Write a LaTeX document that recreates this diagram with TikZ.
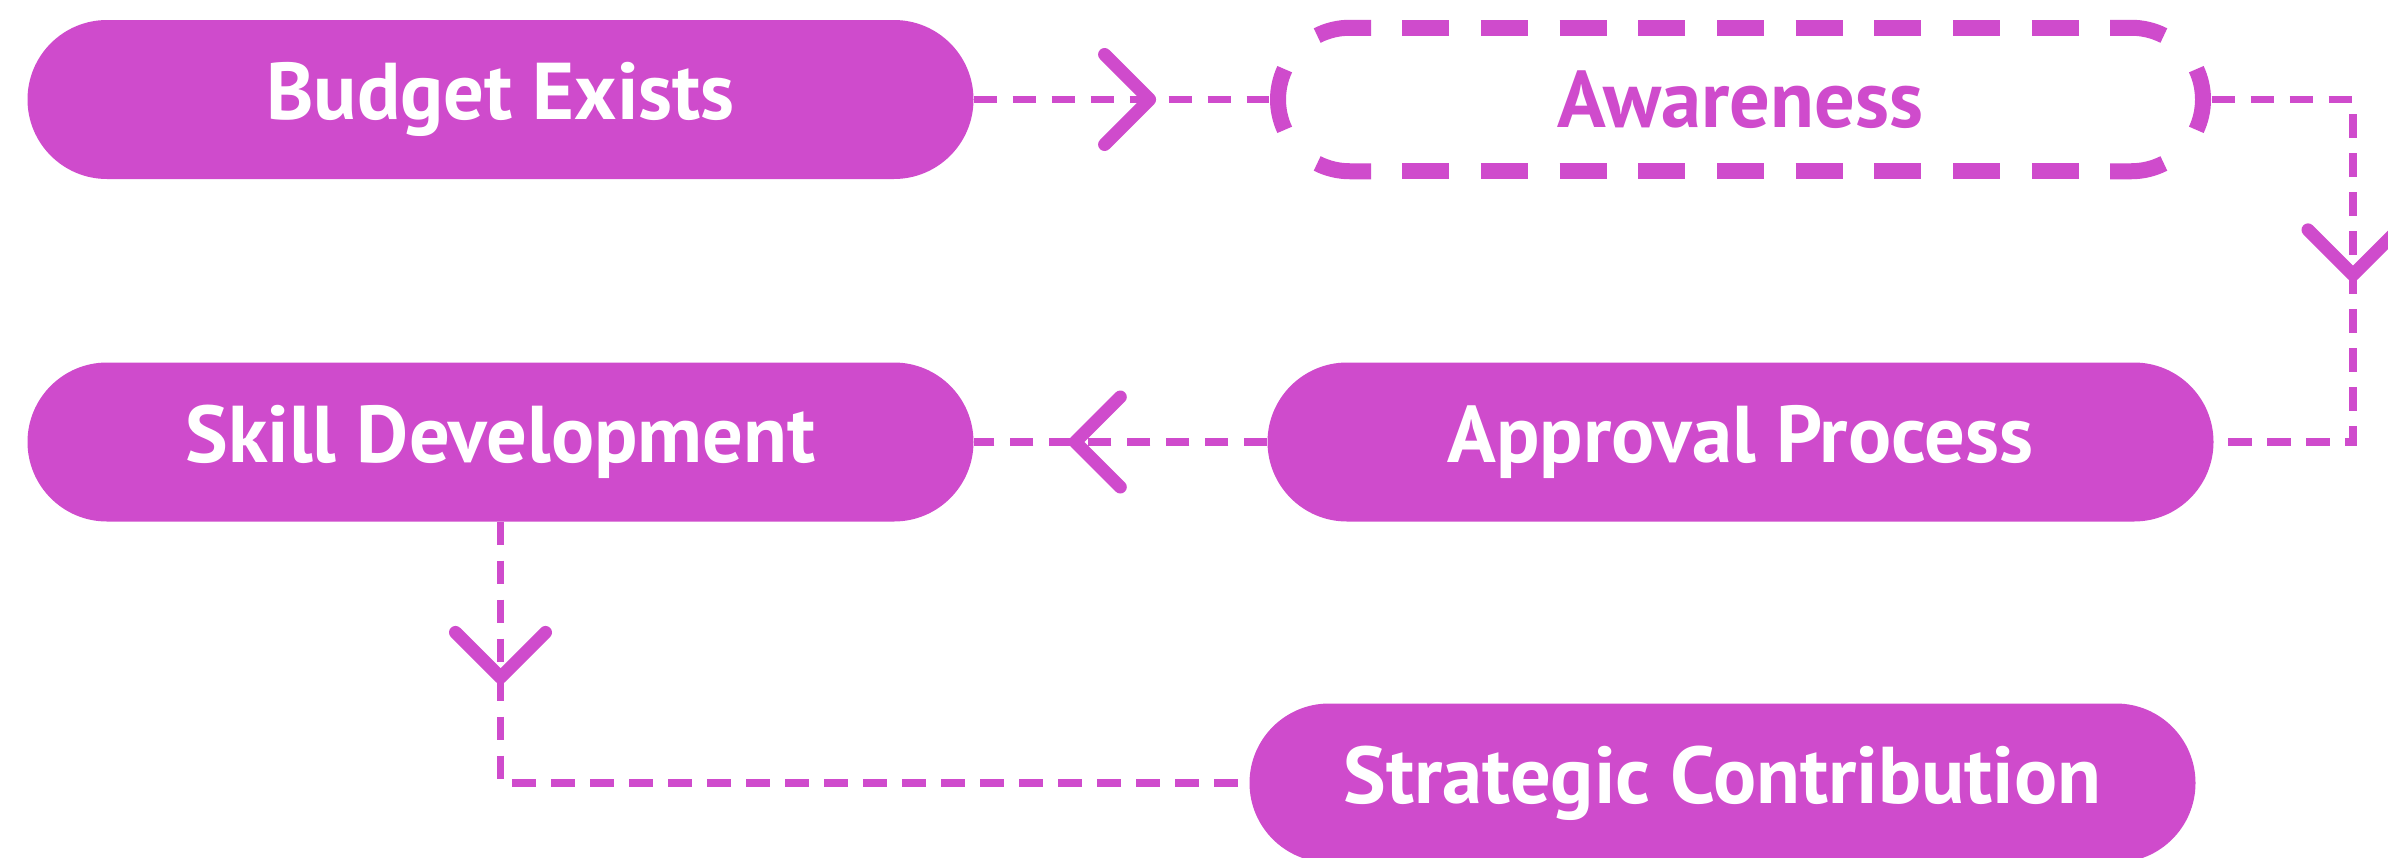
\documentclass[tikz,border=0pt]{standalone}
\usepackage{fontspec}
\setmainfont{PT Sans}[Ligatures={NoCommon,NoContextual}]
\usetikzlibrary{shapes.misc}
\definecolor{orchid}{RGB}{207,75,204}
\tikzset{
  label font/.style={font=\fontsize{80.5}{84}\selectfont\bfseries},
  pill/.style={rounded rectangle, fill=orchid, text=white, minimum width=946pt,
    minimum height=159pt, inner sep=0pt, label font},
  ghost/.style={rounded rectangle, minimum width=942pt, minimum height=159pt,
    inner sep=0pt, text=orchid, label font},
  rim/.style={draw=orchid, line width=16pt, line cap=butt},
  link/.style={draw=orchid, line width=7.5pt, dash pattern=on 23.5pt off 15.5pt},
  chev/.pic={\draw[orchid, line width=13pt, line cap=round, line join=round]
    (-45pt,45pt) -- (0pt,0pt) -- (-45pt,-45pt);}
}
\begin{document}
\begin{tikzpicture}[x=1pt,y=1pt]
\useasboundingbox (0,0) rectangle (2388,-857);
\fill[white] (0,0) rectangle (2388,-857);
\clip (0,0) rectangle (2388,-857);

% process steps
\node[pill]  (budget) at (500.5,-99.5)  {Budget Exists};
\node[ghost] (aw)     at (1740.5,-99.5) {Awareness};
\node[pill]  (skill)  at (500.5,-442)   {Skill Development};
\node[pill]  (approv) at (1740.5,-442)  {Approval Process};
\node[pill]  (strat)  at (1722.5,-783)  {Strategic Contribution};

% dashed outline of the awareness step
\begin{scope}[shift={(aw.center)}]
  \draw[rim, dash pattern=on 47pt off 31.7pt] (-338.3,71.75) -- (338.3,71.75);
  \draw[rim, dash pattern=on 47pt off 31.7pt] (-338.3,-71.75) -- (338.3,-71.75);
  \draw[rim] (-369.5,71.75) -- (-390.75,71.75) arc[start angle=90,end angle=117,radius=71.75];
  \draw[rim] (369.5,71.75) -- (390.75,71.75) arc[start angle=90,end angle=63,radius=71.75];
  \draw[rim] (-369.5,-71.75) -- (-390.75,-71.75) arc[start angle=270,end angle=243,radius=71.75];
  \draw[rim] (369.5,-71.75) -- (390.75,-71.75) arc[start angle=270,end angle=297,radius=71.75];
  \draw[rim] (-390.75,0) ++(155:71.75) arc[start angle=155,end angle=205,radius=71.75];
  \draw[rim] (390.75,0) ++(-25:71.75) arc[start angle=-25,end angle=25,radius=71.75];
\end{scope}

% connectors
\coordinate (turn) at (2353,0);
\draw[link] (budget.east) -- coordinate[pos=0.595] (t1) (aw.west);
\pic at (t1) {chev};

\draw[link] (aw.east) -- (aw.east -| turn) -- coordinate[pos=0.512] (t2) (approv.east -| turn) -- (approv.east);
\pic[rotate=-90] at (t2) {chev};

\draw[link] (approv.west) -- coordinate[pos=0.654] (t3) (skill.east);
\pic[rotate=180] at (t3) {chev};

\draw[link] (skill.south) -- coordinate[pos=0.596] (t4) (skill.south |- strat.west) -- (strat.west);
\pic[rotate=-90] at (t4) {chev};
\end{tikzpicture}
\end{document}
